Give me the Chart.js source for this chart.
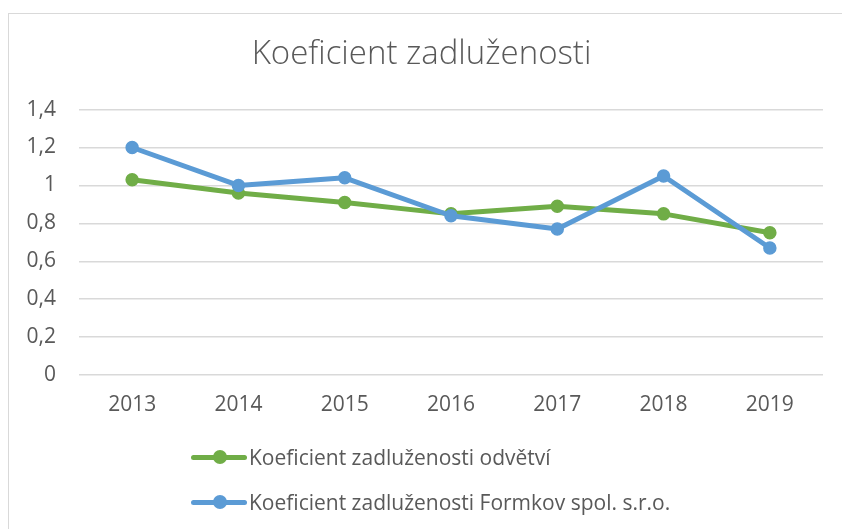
<!DOCTYPE html>
<html>
<head>
<meta charset="utf-8">
<script src="https://cdn.jsdelivr.net/npm/chart.js@4"></script>
<style>
  html, body { margin: 0; padding: 0; background: #fff; }
  body { width: 842px; height: 529px; position: relative; overflow: hidden; font-family: 'Open Sans', sans-serif; }
  #frame { position: absolute; left: 8px; top: 13px; width: 900px; height: 600px; border: 1px solid #d9d9d9; }
  #wrap { position: absolute; left: 0; top: 0; width: 842px; height: 529px; }
  #legend { position: absolute; left: 191px; top: 442px; color: #595959; font-size: 21px; }
  .item { position: absolute; left: 0; height: 30px; white-space: nowrap; }
  .item .line { position: absolute; left: 0; top: 13px; width: 56px; height: 5px; border-radius: 3px; }
  .item .dot { position: absolute; left: 22px; top: 8px; width: 14px; height: 14px; border-radius: 50%; }
  .item .txt { position: absolute; left: 58px; top: 0px; line-height: 30px; }
</style>
</head>
<body>
<div id="frame"></div>
<div id="wrap"><canvas id="chart" width="842" height="529"></canvas></div>
<div id="legend"></div>
<script>
const years = ['2013', '2014', '2015', '2016', '2017', '2018', '2019'];
const odvetvi = [1.03, 0.96, 0.91, 0.85, 0.89, 0.85, 0.75];
const formkov = [1.20, 1.00, 1.04, 0.84, 0.77, 1.05, 0.67];
const seriesNames = ['Koeficient zadluženosti odvětví', 'Koeficient zadluženosti Formkov spol. s.r.o.'];
const seriesColors = ['#70AD47', '#5B9BD5'];
const yTicks = [0, 0.2, 0.4, 0.6, 0.8, 1, 1.2, 1.4];

const textColor = '#595959';

function makeSet(label, data, color, order) {
    return {
        label: label, data: data, order: order,
        borderColor: color, backgroundColor: color,
        borderWidth: 5, borderJoinStyle: 'round', borderCapStyle: 'round',
        pointRadius: 6, pointBorderWidth: 1.5, pointBackgroundColor: color, pointBorderColor: color,
        tension: 0, fill: false
    };
}

const ctx = document.getElementById('chart').getContext('2d');
const chart = new Chart(ctx, {
    type: 'line',
    data: {
        labels: years,
        datasets: [
            makeSet(seriesNames[0], odvetvi, seriesColors[0], 1),
            makeSet(seriesNames[1], formkov, seriesColors[1], 0)
        ]
    },
    options: {
        responsive: false,
        animation: false,
        layout: { padding: { left: 20, right: 19, top: 35, bottom: 100 } },
        plugins: {
            legend: { display: false },
            tooltip: { enabled: false },
            title: {
                display: true, text: 'Koeficient zadluženosti', color: textColor,
                font: { family: "'Open Sans', sans-serif", size: 33, weight: '300', lineHeight: 1.2 },
                padding: { top: 0, bottom: 35 }
            }
        },
        scales: {
            x: {
                offset: true,
                grid: { display: false, drawTicks: false },
                border: { display: false },
                ticks: { color: textColor, padding: 17, font: { family: "'Open Sans', sans-serif", size: 21 } },
                afterFit: s => { s.height = 54; }
            },
            y: {
                min: 0, max: 1.4,
                afterBuildTicks: s => { s.ticks = yTicks.map(v => ({ value: v })); },
                grid: { color: '#d9d9d9', lineWidth: 1.5, drawTicks: false },
                border: { display: false },
                ticks: {
                    color: textColor, padding: 23,
                    font: { family: "'Open Sans', sans-serif", size: 21 },
                    callback: v => String(v).replace('.', ',')
                },
                afterFit: s => { s.width = 59; }
            }
        }
    }
});

// legend laid out like the original: two rows, stacked
const legend = document.getElementById('legend');
seriesNames.forEach((name, i) => {
    const row = document.createElement('div');
    row.className = 'item';
    row.style.top = (i * 45) + 'px';
    row.innerHTML = '<span class="line" style="background:' + seriesColors[i] + '"></span>' +
        '<span class="dot" style="background:' + seriesColors[i] + '"></span>' +
        '<span class="txt">' + name + '</span>';
    legend.appendChild(row);
});
</script>
</body>
</html>
